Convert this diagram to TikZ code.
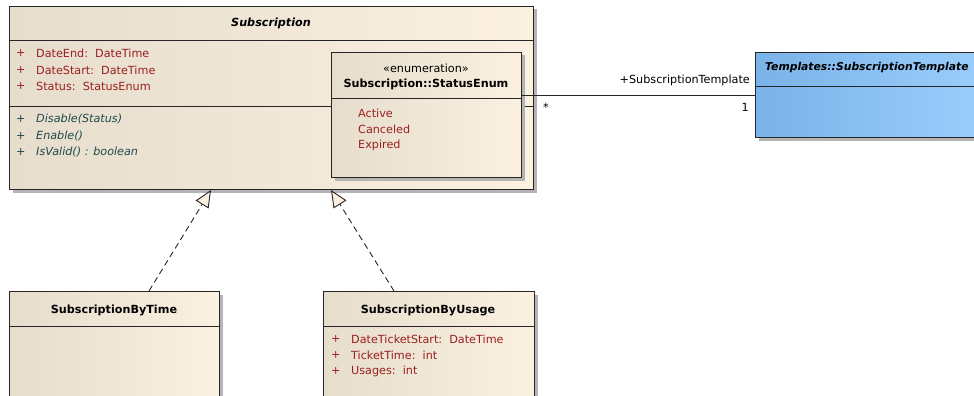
\documentclass[tikz,border=0pt]{standalone}
\usepackage{fontspec}
\setmainfont{DejaVu Sans}
\usetikzlibrary{arrows.meta,shadows}
\definecolor{beigeL}{HTML}{E6DDCD}
\definecolor{beigeR}{HTML}{FCF1E1}
\definecolor{blueL}{HTML}{7AB3E8}
\definecolor{blueR}{HTML}{A0D1FF}
\definecolor{attrred}{HTML}{9A1F1F}
\definecolor{opteal}{HTML}{1F4A4C}
\definecolor{shadowgray}{HTML}{B4B4B4}
\tikzset{
  umlbox/.style={draw=black!85, line width=1pt, anchor=north west, inner sep=0pt,
    left color=beigeL, right color=beigeR,
    drop shadow={shadow xshift=3pt, shadow yshift=-3pt, fill=shadowgray, opacity=1}},
  bluebox/.style={umlbox, left color=blueL, right color=blueR},
  divider/.style={draw=black!85, line width=0.8pt},
  txt/.style={inner sep=0pt, font=\fontsize{11.2}{13}\selectfont},
  title/.style={txt, font=\fontsize{11.2}{13}\selectfont\bfseries},
  ititle/.style={txt, font=\fontsize{11.2}{13}\selectfont\bfseries\itshape},
  attr/.style={txt, anchor=west, text=attrred},
  oper/.style={txt, anchor=west, text=opteal, font=\fontsize{11.2}{13}\selectfont\itshape},
  realize/.style={draw=black!85, line width=0.9pt, dash pattern=on 6pt off 4pt,
    -{Triangle[length=17pt,width=15pt,fill=beigeR,line width=0.9pt]}},
  assoc/.style={draw=black!85, line width=0.9pt},
  lbl/.style={txt, text=black}
}
\begin{document}
\begin{tikzpicture}[x=1pt,y=-1pt]
\useasboundingbox (0,0) rectangle (974,396);
\clip (0,0) rectangle (974,396);
\fill[white] (0,0) rectangle (974,396);

% Subscription class
\node[umlbox, minimum width=524pt, minimum height=183pt] (sub) at (9,6) {};
\draw[divider] (sub.west |- 0,40) -- (sub.east |- 0,40);
\draw[divider] (sub.west |- 0,106) -- (sub.east |- 0,106);
\node[ititle] (subname) at (271,23) {Subscription};
\node[attr] (a1p) at (16,53) {+};
\node[attr] (a1) at (36,53) {DateEnd:\ \ DateTime};
\node[attr] (a2p) at (16,70) {+};
\node[attr] (a2) at (36,70) {DateStart:\ \ DateTime};
\node[attr] (a3p) at (16,86) {+};
\node[attr] (a3) at (36,86) {Status:\ \ StatusEnum};
\node[oper] (o1p) at (16,119) {+};
\node[oper] (o1) at (36,119) {Disable(Status)};
\node[oper] (o2p) at (16,136) {+};
\node[oper] (o2) at (36,136) {Enable()};
\node[oper] (o3p) at (16,152) {+};
\node[oper] (o3) at (36,152) {IsValid() : boolean};

% Nested enumeration
\node[umlbox, minimum width=190pt, minimum height=125pt] (enum) at (331,52) {};
\draw[divider] (enum.west |- 0,98) -- (enum.east |- 0,98);
\node[txt] (stereo) at (426,68) {«enumeration»};
\node[title] (enumname) at (426,84) {Subscription::StatusEnum};
\node[attr] (e1) at (358,113) {Active};
\node[attr] (e2) at (358,129) {Canceled};
\node[attr] (e3) at (358,145) {Expired};

% Template class
\node[bluebox, minimum width=260pt, minimum height=85pt] (tmpl) at (755,52) {};
\draw[divider] (tmpl.west |- 0,86) -- (tmpl.east |- 0,86);
\node[ititle, anchor=west, font=\fontsize{10.8}{12}\selectfont\bfseries\itshape] (tmplname) at (765,68) {Templates::SubscriptionTemplate};

% Subclasses
\node[umlbox, minimum width=210pt, minimum height=120pt] (bytime) at (9,291) {};
\draw[divider] (bytime.west |- 0,326) -- (bytime.east |- 0,326);
\node[title] (bytimename) at (114,310) {SubscriptionByTime};

\node[umlbox, minimum width=211pt, minimum height=120pt] (byusage) at (323,291) {};
\draw[divider] (byusage.west |- 0,326) -- (byusage.east |- 0,326);
\node[title] (byusagename) at (428,310) {SubscriptionByUsage};
\node[attr] (u1p) at (331,339) {+};
\node[attr] (u1) at (351,339) {DateTicketStart:\ \ DateTime};
\node[attr] (u2p) at (331,355) {+};
\node[attr] (u2) at (351,355) {TicketTime:\ \ int};
\node[attr] (u3p) at (331,371) {+};
\node[attr] (u3) at (351,371) {Usages:\ \ int};

% Association
\draw[assoc] (enum.east |- 0,95) -- (tmpl.west |- 0,95);
\node[lbl, anchor=east] (role) at (750,80) {+SubscriptionTemplate};
\node[lbl] (multS) at (546,107) {*};
\node[lbl, anchor=east] (multT) at (749,107) {1};

% Realizations
\coordinate (t1) at (211,190);
\coordinate (t2) at (331,190);
\draw[realize] (bytime.north -| 149,0) -- (t1);
\draw[realize] (byusage.north -| 394,0) -- (t2);
\end{tikzpicture}
\end{document}
